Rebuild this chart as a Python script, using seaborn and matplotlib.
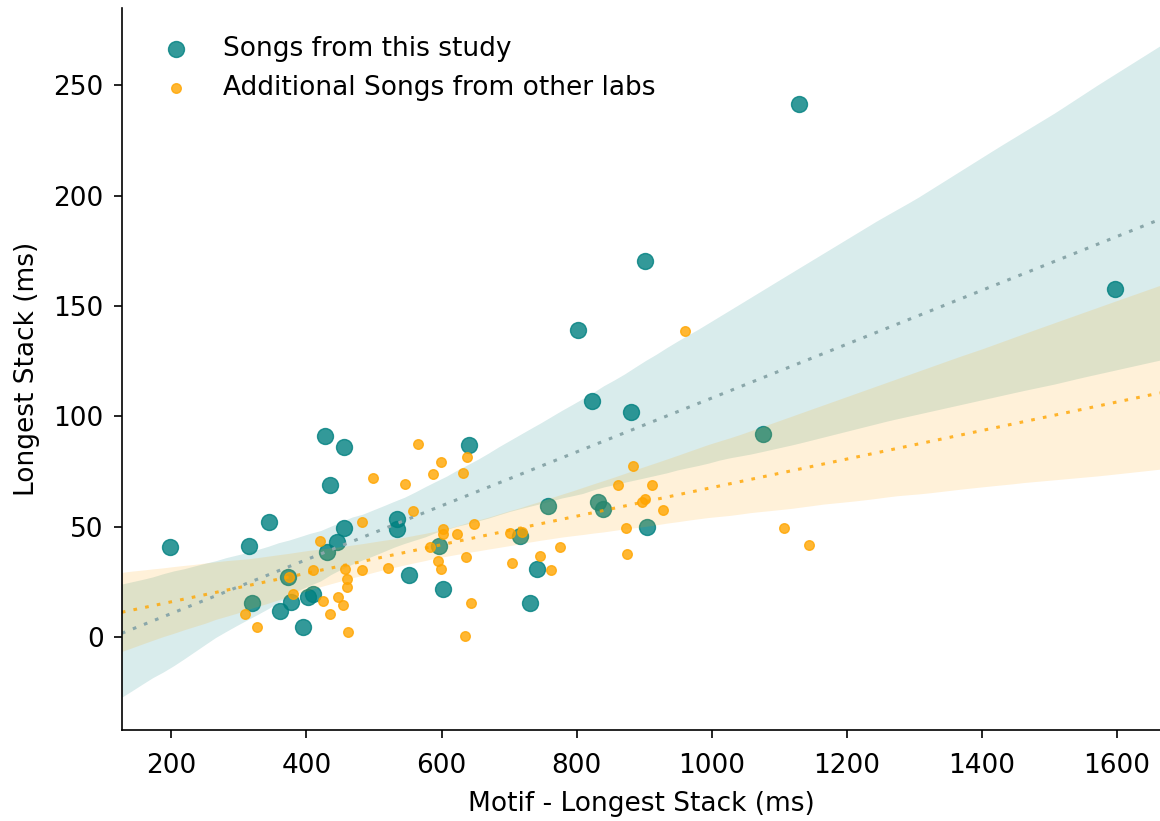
import numpy as np
import pandas as pd
import matplotlib
matplotlib.use("Agg")
import matplotlib.pyplot as plt
import seaborn as sns

# Songs recorded in this study
study_motif = [198, 315, 344, 319, 361, 377, 372, 395, 402, 410, 430, 445, 455, 435,
               427, 455, 534, 534, 552, 596, 602, 641, 716, 741, 731, 758, 832, 839,
               905, 802, 823, 881, 901, 1076, 1130, 1598]
study_stack = [40.8, 41.2, 52.1, 15.4, 11.8, 15.8, 27.2, 4.5, 18.1, 19.5, 38.5, 43.0,
               49.4, 68.8, 91.0, 86.1, 53.4, 49.0, 28.1, 41.2, 21.7, 87.0, 45.7, 30.8,
               15.4, 59.3, 61.1, 58.0, 49.8, 139.0, 106.9, 101.9, 170.3, 91.9, 241.4,
               157.6]

# Songs contributed by other labs
other_motif = [498, 482, 420, 410, 457, 482, 521, 460, 460, 380, 424, 447, 454, 435,
               309, 327, 461, 374, 565, 638, 599, 587, 632, 546, 558, 602, 602, 623,
               648, 583, 595, 599, 636, 644, 635, 701, 719, 775, 704, 746, 762, 884,
               861, 912, 902, 897, 928, 873, 875, 961, 1107, 1144]
other_stack = [72.0, 52.1, 43.5, 30.3, 30.8, 30.3, 31.2, 26.3, 22.6, 19.5, 16.3, 18.1,
               14.5, 10.4, 10.4, 4.5, 2.3, 27.2, 87.4, 81.5, 79.3, 73.8, 74.3, 69.3,
               57.1, 49.0, 46.6, 46.6, 51.2, 40.8, 34.4, 30.8, 36.2, 15.4, 0.5, 47.1,
               47.6, 40.8, 33.5, 36.7, 30.3, 77.4, 68.8, 68.8, 62.5, 61.1, 57.5, 49.4,
               37.6, 138.6, 49.4, 41.7]

study_label = "Songs from this study"
other_label = "Additional Songs from other labs"
x_label = "Motif - Longest Stack (ms)"
y_label = "Longest Stack (ms)"
x_ticks = [200, 400, 600, 800, 1000, 1200, 1400, 1600]
y_ticks = [0, 50, 100, 150, 200, 250]

study = pd.DataFrame({"motif": study_motif, "stack": study_stack})
other = pd.DataFrame({"motif": other_motif, "stack": other_stack})

plt.rcParams["font.family"] = ["DejaVu Sans"]
FS = 19

fig = plt.figure(figsize=(11.6, 8.21), dpi=100)
ax = fig.add_axes([0.105, 0.111, 0.895, 0.879])
ax.set_xlim(126.5, 1664)
ax.set_ylim(-42, 285)

dotted = (0, (1.2, 2.7))
sns.regplot(data=study, x="motif", y="stack", ax=ax, color="teal", truncate=False,
            seed=3, scatter_kws={"s": 132}, label=study_label,
            line_kws={"linestyle": dotted, "linewidth": 2.2})
# soften the study fit line to a muted grey-teal
ax.lines[-1].set_color("#8aa7aa")
sns.regplot(data=other, x="motif", y="stack", ax=ax, color="orange", truncate=False,
            seed=5, scatter_kws={"s": 48}, label=other_label,
            line_kws={"linestyle": dotted, "linewidth": 2.2, "alpha": 0.8})

ax.set_xlim(126.5, 1664)
ax.set_ylim(-42, 285)
ax.set_xticks(x_ticks)
ax.set_yticks(y_ticks)
ax.tick_params(labelsize=FS, length=6, width=1.2, colors="black")
ax.tick_params(axis="x", pad=11)
ax.tick_params(axis="y", pad=7)
ax.set_xlabel(x_label, fontsize=FS, labelpad=8, color="black")
ax.set_ylabel(y_label, fontsize=FS, labelpad=10, color="black")
for s in ax.spines.values():
    s.set_linewidth(1.2)
    s.set_color("black")
sns.despine(ax=ax)

ax.legend(loc="upper left", frameon=False, fontsize=FS, borderaxespad=0.65)

fig.savefig("out.png", dpi=100)
